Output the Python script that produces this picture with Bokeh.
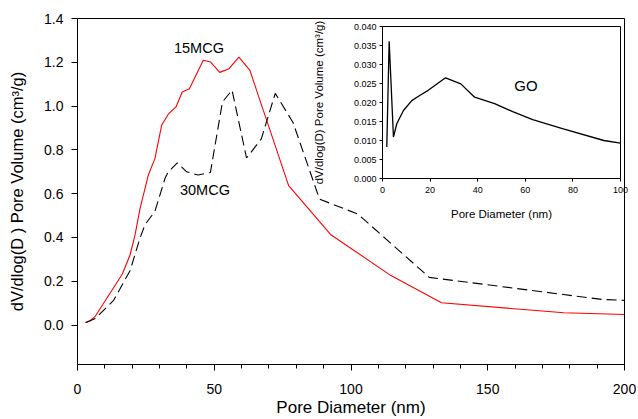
from bokeh.plotting import figure
from bokeh.models import (Range1d, FixedTicker, NumeralTickFormatter, ColumnDataSource, GridBox, Title)
from bokeh.core.properties import value
from bokeh.embed import file_html
from bokeh.resources import INLINE

# ---- data: main chart ----
diam_15mcg = [2.8, 4.6, 6.5, 16.4, 19.2, 21.0, 22.9, 25.9, 28.3, 30.8, 33.2, 36.0, 38.3, 40.9,
              46.0, 48.7, 52.0, 55.4, 59.0, 63.0, 77.2, 92.5, 114.6, 133.1, 177.8, 200.0]
vol_15mcg = [0.012, 0.020, 0.040, 0.233, 0.320, 0.410, 0.534, 0.685, 0.760, 0.914, 0.963, 0.996, 1.064, 1.079,
             1.209, 1.201, 1.154, 1.171, 1.224, 1.164, 0.637, 0.414, 0.226, 0.102, 0.056, 0.048]

diam_30mcg = [3.2, 6.5, 13.2, 19.2, 22.9, 24.7, 28.3, 32.0, 33.2, 36.5, 39.9, 44.1, 48.6, 53.0,
              56.5, 61.8, 67.2, 72.3, 78.8, 88.5, 102.5, 128.6, 191.8, 200.0]
vol_30mcg = [0.012, 0.030, 0.113, 0.248, 0.399, 0.459, 0.519, 0.670, 0.700, 0.741, 0.700, 0.685, 0.697, 1.019,
             1.073, 0.763, 0.850, 1.058, 0.925, 0.575, 0.507, 0.218, 0.117, 0.113]

series_names = ["15MCG", "30MCG"]
series_label_x = [44.4, 46.6]
series_label_y = [1.266, 0.619]

main_x_ticks = [0, 50, 100, 150, 200]
main_x_minor = [10, 20, 30, 40, 60, 70, 80, 90, 110, 120, 130, 140, 160, 170, 180, 190]
main_y_ticks = [0.0, 0.2, 0.4, 0.6, 0.8, 1.0, 1.2, 1.4]
main_x_title = "Pore Diameter (nm)"
main_y_title = "dV/dlog(D ) Pore Volume (cm³/g)"

# ---- data: inset (GO) ----
diam_go = [1.8, 2.8, 4.6, 6.0, 8.8, 12.3, 15.8, 19.2, 26.5, 32.9, 38.7, 47.1, 54.7, 63.1, 75.6, 93.0, 100.0]
vol_go = [0.0083, 0.0361, 0.0109, 0.0144, 0.0179, 0.0205, 0.0219, 0.0232, 0.0265, 0.0249, 0.0214,
          0.0197, 0.0176, 0.0155, 0.0131, 0.0100, 0.0093]
go_name = ["GO"]
go_label_x = [60.3]
go_label_y = [0.0245]

inset_x_ticks = [0, 20, 40, 60, 80, 100]
inset_y_ticks = [0.0, 0.005, 0.010, 0.015, 0.020, 0.025, 0.030, 0.035, 0.040]
inset_x_title = "Pore Diameter (nm)"
inset_y_title = "dV/dlog(D) Pore Volume (cm³/g)"

FONT = "Liberation Sans"

# ---- main figure ----
p = figure(width=638, height=419, output_backend="svg", toolbar_location=None,
           x_range=Range1d(0, 200), y_range=Range1d(-0.18, 1.4),
           min_border_left=76, min_border_right=14, min_border_top=18, min_border_bottom=51)
p.title.visible = False
p.xgrid.visible = False
p.ygrid.visible = False
p.outline_line_color = "black"
p.outline_line_width = 1
p.background_fill_color = "white"

p.line(diam_15mcg, vol_15mcg, line_color="#ff0000", line_width=1.1)
p.line(diam_30mcg, vol_30mcg, line_color="black", line_width=1.1, line_dash="10 5")

lab_src = ColumnDataSource(dict(x=series_label_x, y=series_label_y, t=series_names))
p.text(x="x", y="y", text="t", source=lab_src, text_font=value(FONT), text_font_size="14.5px",
       text_align="center", text_baseline="middle", text_color="black")

p.xaxis.ticker = FixedTicker(ticks=main_x_ticks, minor_ticks=main_x_minor)
p.yaxis.ticker = FixedTicker(ticks=main_y_ticks)
p.yaxis.formatter = NumeralTickFormatter(format="0.0")
p.yaxis.axis_label = main_y_title
for ax in (p.xaxis[0], p.yaxis[0]):
    ax.axis_label_text_font = FONT
    ax.axis_label_text_font_style = "normal"
    ax.axis_label_text_font_size = "16.5px"
    ax.axis_label_text_color = "black"
    ax.major_label_text_font = FONT
    ax.major_label_text_font_size = "14px"
    ax.major_label_text_color = "black"
    ax.axis_line_color = "black"
    ax.major_tick_line_color = "black"
    ax.minor_tick_line_color = "black"
    ax.major_tick_in = 0
    ax.major_tick_out = 6
    ax.minor_tick_in = 0
    ax.minor_tick_out = 4
p.xaxis.major_label_standoff = 13
p.yaxis.major_label_standoff = 8
p.yaxis.axis_label_standoff = 15

# x-axis title below the axis, slightly left of centre as in the original
p.add_layout(Title(text=main_x_title, align="center", offset=-22, standoff=-1,
                   text_font=FONT, text_font_size="17px", text_font_style="normal",
                   text_color="black"), "below")

# ---- inset figure ----
inset = figure(width=329, height=225, output_backend="svg", toolbar_location=None,
               x_range=Range1d(0, 100), y_range=Range1d(0, 0.04),
               min_border_left=77, min_border_right=12, min_border_top=18, min_border_bottom=55,
               margin=(8, 0, 0, 305), align="start")
inset.title.visible = False
inset.xgrid.visible = False
inset.ygrid.visible = False
inset.outline_line_color = "black"
inset.border_fill_alpha = 0
inset.background_fill_alpha = 0

inset.line(diam_go, vol_go, line_color="black", line_width=1.3)
go_src = ColumnDataSource(dict(x=go_label_x, y=go_label_y, t=go_name))
inset.text(x="x", y="y", text="t", source=go_src, text_font=value(FONT), text_font_size="15px",
           text_align="center", text_baseline="middle", text_color="black")

inset.xaxis.ticker = FixedTicker(ticks=inset_x_ticks)
inset.yaxis.ticker = FixedTicker(ticks=inset_y_ticks)
inset.yaxis.formatter = NumeralTickFormatter(format="0.000")
inset.xaxis.axis_label = inset_x_title
inset.yaxis.axis_label = inset_y_title
for ax in (inset.xaxis[0], inset.yaxis[0]):
    ax.axis_label_text_font = FONT
    ax.axis_label_text_font_style = "normal"
    ax.axis_label_text_font_size = "11.5px"
    ax.axis_label_text_color = "black"
    ax.major_label_text_font = FONT
    ax.major_label_text_font_size = "9px"
    ax.major_label_text_color = "black"
    ax.axis_line_color = "black"
    ax.major_tick_line_color = "black"
    ax.major_tick_in = 0
    ax.major_tick_out = 3
    ax.minor_tick_line_color = None
inset.xaxis.major_label_standoff = 5
inset.xaxis.axis_label_standoff = 12
inset.yaxis.major_label_standoff = 3
inset.yaxis.axis_label_standoff = 26

root = GridBox(children=[(p, 0, 0), (inset, 0, 0)])

open("out.html", "w").write(file_html(root, INLINE))
